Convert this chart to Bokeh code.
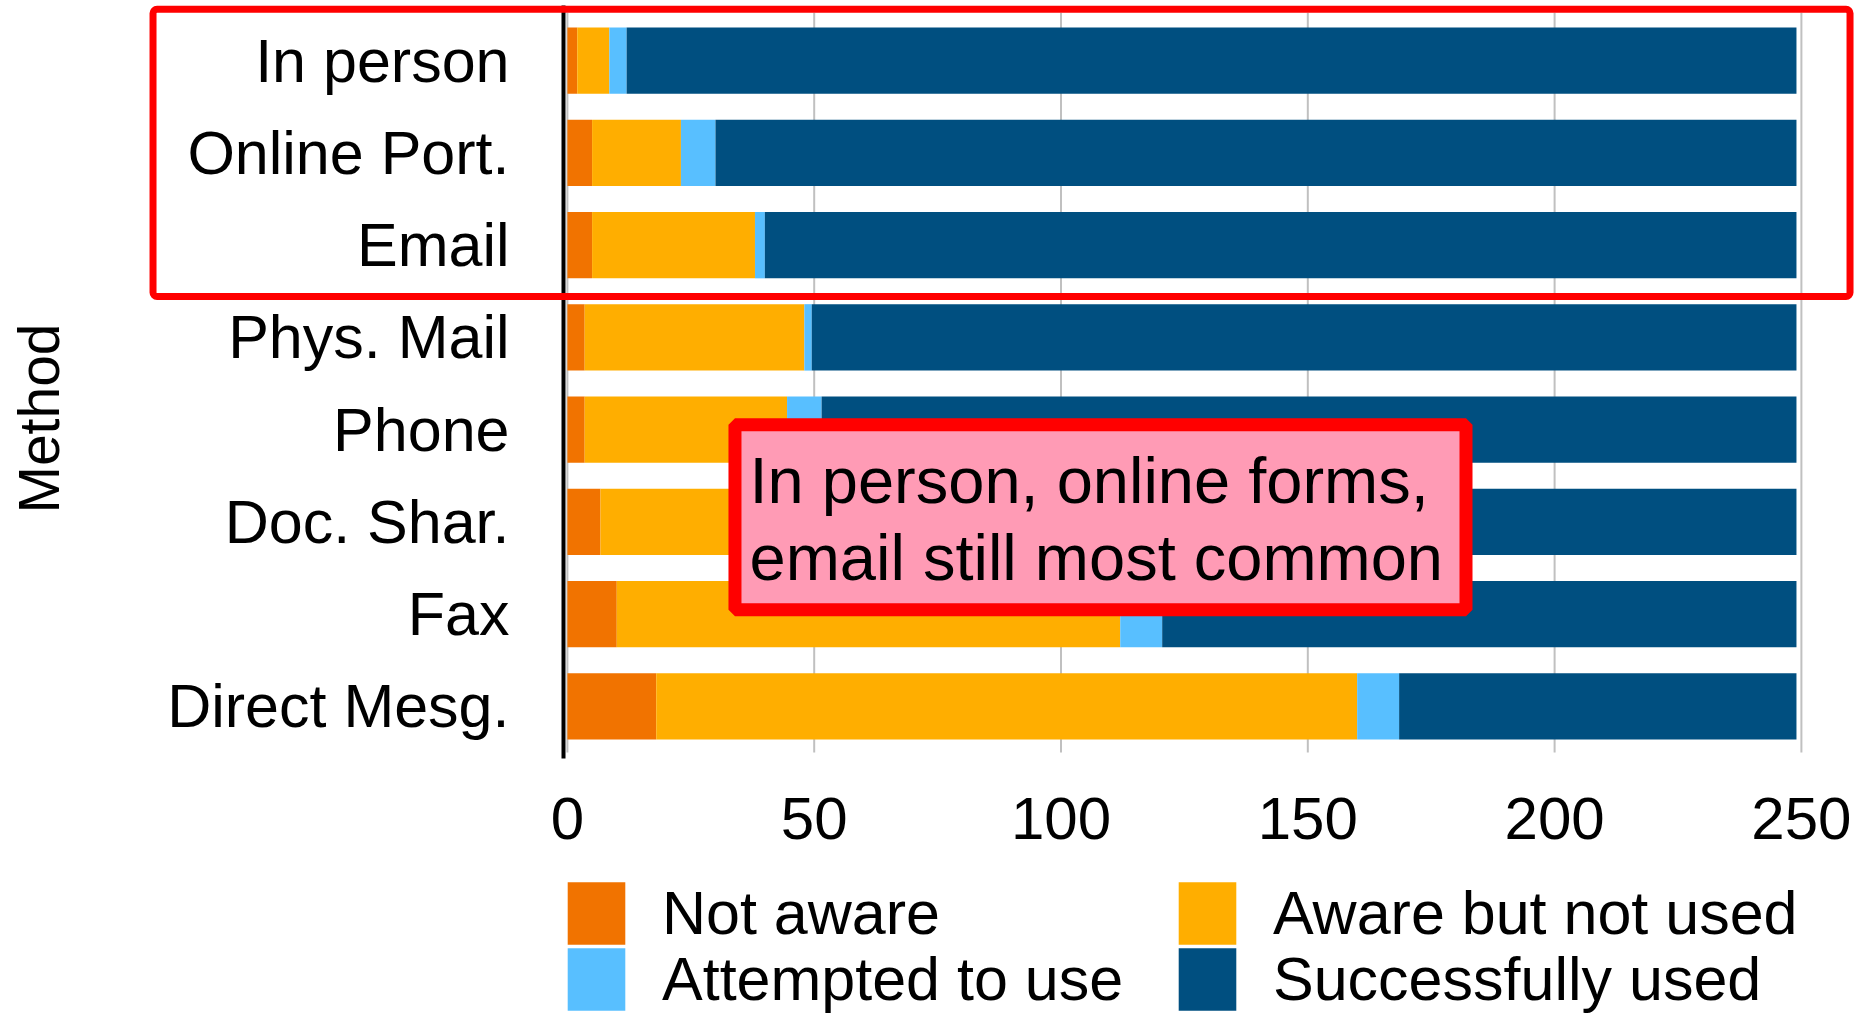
from bokeh.plotting import figure
from bokeh.models import (ColumnDataSource, Range1d, FixedTicker, LinearAxis,
                          Legend, LegendItem, BoxAnnotation, Label)
from bokeh.embed import file_html
from bokeh.resources import INLINE

# ---- data ----
methods = ["In person", "Online Port.", "Email", "Phys. Mail", "Phone",
           "Doc. Shar.", "Fax", "Direct Mesg."]
not_aware = [2, 5, 5, 3.5, 3.5, 6.7, 10, 18]
aware_not_used = [6.5, 18, 33, 44.5, 41, 80, 102, 142]
attempted = [3.5, 7, 2, 1.5, 7, 7, 8.5, 8.5]
successful = [237, 219, 209, 199.5, 197.5, 155.3, 128.5, 80.5]
series_keys = ["not_aware", "aware_not_used", "attempted", "successful"]
series_labels = ["Not aware", "Aware but not used", "Attempted to use", "Successfully used"]
colors = ["#f17300", "#ffae00", "#58bfff", "#004f80"]
x_ticks = [0, 50, 100, 150, 200, 250]
y_axis_title = "Method"
note_lines = ["In person, online forms,", "email still most common"]

FONT = "Liberation Sans"

n = len(methods)
row_pos = [n - 1 - i for i in range(n)]  # first method at the top
source = ColumnDataSource(dict(method=methods, ypos=row_pos, not_aware=not_aware,
                               aware_not_used=aware_not_used,
                               attempted=attempted, successful=successful))

p = figure(x_range=Range1d(-114.85, 262.58), y_range=Range1d(-3.3726, 7.6518),
           width=1863, height=1017, output_backend="svg", toolbar_location=None,
           title=None, x_axis_type=None, y_axis_type=None,
           min_border_left=0, min_border_right=0, min_border_top=0, min_border_bottom=0)
p.outline_line_color = None
p.background_fill_color = "white"
p.grid.visible = False

# vertical grid lines at the tick positions, limited to the bar area
p.segment(x0=x_ticks, y0=-0.5, x1=x_ticks, y1=7.52, line_color="#c0c0c0", line_width=2)

renderers = p.hbar_stack(series_keys, y="ypos", height=0.72, fill_color=colors,
                         line_color=None, source=source)

# x axis
xaxis = LinearAxis(fixed_location=-0.5, ticker=FixedTicker(ticks=x_ticks))
xaxis.axis_line_color = None
xaxis.major_tick_line_color = None
xaxis.minor_tick_line_color = None
xaxis.major_tick_out = 0
xaxis.major_tick_in = 0
xaxis.major_label_standoff = 45
xaxis.major_label_text_font = FONT
xaxis.major_label_text_font_size = "60px"
xaxis.major_label_text_color = "black"
p.add_layout(xaxis, "below")

# y axis (categories)
yaxis = LinearAxis(fixed_location=-0.79, bounds=(-0.565, 7.598),
                   ticker=FixedTicker(ticks=row_pos),
                   major_label_overrides={pos: name for pos, name in zip(row_pos, methods)})
yaxis.axis_line_color = "black"
yaxis.axis_line_width = 4
yaxis.major_tick_line_color = None
yaxis.minor_tick_line_color = None
yaxis.major_tick_out = 0
yaxis.major_tick_in = 0
yaxis.major_label_standoff = 54
yaxis.major_label_text_font = FONT
yaxis.major_label_text_font_size = "61px"
yaxis.major_label_text_color = "black"
p.add_layout(yaxis, "left")

# axis title
p.add_layout(Label(x=-107.05, y=3.1206, text=y_axis_title, angle=90, angle_units="deg",
                   text_align="center", text_baseline="middle",
                   text_font=FONT, text_font_size="57px", text_color="black"))

# red box around top three rows
p.add_layout(BoxAnnotation(left=-83.95, right=259.85, top=7.5575, bottom=4.4431,
                           fill_color=None, fill_alpha=0, line_color="#ff0000",
                           line_alpha=1, line_width=7, border_radius=4, level="overlay"))

# note box
p.add_layout(BoxAnnotation(left=33.95, right=182.05, top=3.0523, bottom=1.0469,
                           fill_color="#ff9bb5", fill_alpha=1, line_color="#ff0000",
                           line_width=13, line_alpha=1, level="overlay"))
p.add_layout(Label(x=36.9, y=2.4485, text=note_lines[0], text_align="left",
                   text_baseline="middle", text_font=FONT, text_font_size="65px",
                   text_color="black", level="overlay"))
p.add_layout(Label(x=36.9, y=1.6106, text=note_lines[1], text_align="left",
                   text_baseline="middle", text_font=FONT, text_font_size="65px",
                   text_color="black", level="overlay"))

# legend: 2 x 2 grid, one entry per legend for exact placement
def make_legend(i, loc):
    items = [LegendItem(label=series_labels[i], renderers=[renderers[i]])]
    return Legend(items=items, location=loc, orientation="vertical",
                  glyph_width=72, glyph_height=78, label_standoff=30, spacing=0,
                  padding=0, margin=0, border_line_color=None,
                  background_fill_alpha=0, label_text_font=FONT,
                  label_text_font_size="61px", label_text_color="black",
                  label_height=66)

legend_cols = [560, 1171]
legend_rows = [65, -1]
for k in range(4):
    p.add_layout(make_legend(k, (legend_cols[k % 2], legend_rows[k // 2])), "center")

open("out.html", "w").write(file_html(p, INLINE))
